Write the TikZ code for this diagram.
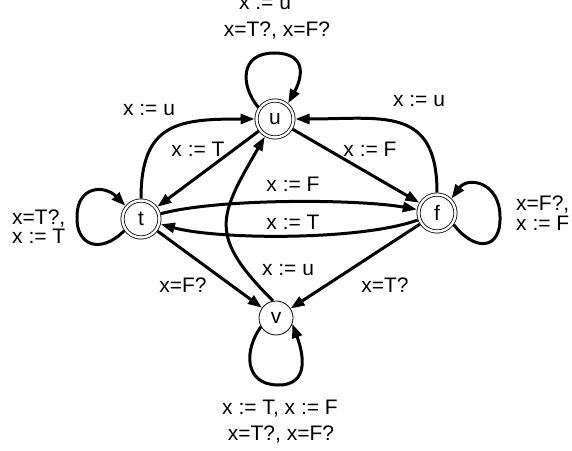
\documentclass[tikz,border=0pt]{standalone}
\usepackage{fontspec}
\setmainfont{Liberation Sans}
\usetikzlibrary{arrows.meta}

\begin{document}
\begin{tikzpicture}[x=1pt, y=1pt,
  every node/.style={font=\fontsize{21}{24}\selectfont},
  state/.style={circle, draw, line width=0.8pt, minimum size=34pt,
    inner sep=0pt, outer sep=0.4pt},
  accstate/.style={state, double, double distance=2.4pt,
    minimum size=37pt, outer sep=2pt},
  trans/.style={line width=3pt, -{Triangle[length=14pt,width=10pt]}},
  lbl/.style={anchor=base, inner sep=0pt}]

\useasboundingbox (0,0) rectangle (572,450);

%% States
\node[accstate] (u) at (275,331) {u};
\node[accstate] (t) at (141,231) {t};
\node[accstate] (f) at (437,237) {f};
\node[state] (v) at (276,132) {v};

%% Self loops
\draw[trans] (u.145) .. controls (240,365) and (240,397) .. (274,397)
  .. controls (308,397) and (302,372) .. (u.50);
\draw[trans] (t.215) .. controls (100,195) and (76,205) .. (77,233)
  .. controls (77,265) and (105,265) .. (t.140);
\draw[trans] (f.325) .. controls (475,198) and (501,200) .. (500,233)
  .. controls (500,268) and (468,274) .. (f.45);
\draw[trans] (v.210) .. controls (244,100) and (244,66) .. (277,65)
  .. controls (312,64) and (302,100) .. (v.340);

%% Straight transitions
\draw[trans] (u) -- (t);
\draw[trans] (u) -- (f);
\draw[trans] (t) -- (v);
\draw[trans] (f) -- (v);

%% Curved transitions
\draw[trans] (t) to[out=90, in=180, looseness=1.4] (u);
\draw[trans] (f) to[out=90, in=0, looseness=1.4] (u);
\draw[trans] (t) to[out=15, in=170, looseness=0.6] (f);
\draw[trans] (f) to[out=200, in=-15, looseness=0.6] (t);
\draw[trans] (v.100) to[out=135, in=240, looseness=1.44] (u);

%% Labels
\node[lbl] (l-uu1) at (265,440) {x := u};
\node[lbl] (l-uu2) at (277,413) {x=T?, x=F?};
\node[lbl] (l-tu) at (149,334) {x := u};
\node[lbl] (l-fu) at (419,343) {x := u};
\node[lbl] (l-ut) at (198,293) {x := T};
\node[lbl] (l-uf) at (370,293) {x := F};
\node[lbl] (l-tf) at (293,258) {x := F};
\node[lbl] (l-ft) at (293,220) {x := T};
\node[lbl] (l-vu) at (288,175) {x := u};
\node[lbl] (l-tv) at (183,158) {x=F?};
\node[lbl] (l-fv) at (385,158) {x=T?};
\node[lbl] (l-vv1) at (280,36) {x := T, x := F};
\node[lbl] (l-vv2) at (281,10) {x=T?, x=F?};
\node[lbl, anchor=base west] (l-tt1) at (12,225) {x=T?,};
\node[lbl, anchor=base west] (l-tt2) at (12,206) {x := T};
\node[lbl, anchor=base west] (l-ff1) at (516,239) {x=F?,};
\node[lbl, anchor=base west] (l-ff2) at (516,219) {x := F};

\end{tikzpicture}
\end{document}
